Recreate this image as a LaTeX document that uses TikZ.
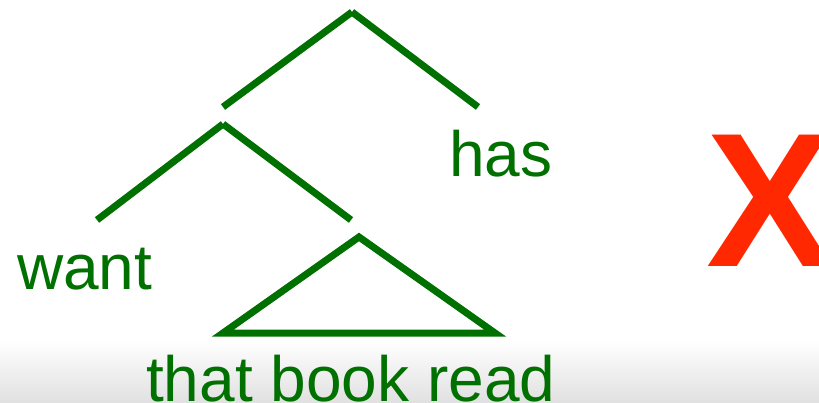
\documentclass[tikz,border=0pt]{standalone}
\usepackage{fontspec}
\setmainfont{Liberation Sans}
\definecolor{treegreen}{RGB}{0,112,0}
\definecolor{xred}{RGB}{255,40,0}
\tikzset{
  branch/.style={treegreen, line width=7pt, line cap=butt},
  roof/.style={treegreen, line width=7pt, line join=miter},
  word/.style={treegreen, font=\fontsize{64}{64}\selectfont, inner sep=0pt, anchor=base west},
  cross/.style={xred, font=\fontsize{191}{191}\selectfont\bfseries, inner sep=0pt, anchor=base west},
}

\begin{document}
\begin{tikzpicture}[x=1pt, y=-1pt]
  \useasboundingbox (0,0) rectangle (819,403);
  % --- grey band along the bottom ---
  \shade[top color=white, bottom color=black!12] (0,340) rectangle (819,403);

  % --- tree points ---
  \coordinate (root)  at (352,12);
  \coordinate (rootL) at (223,107);
  \coordinate (rootR) at (478,107);
  \coordinate (vp)    at (223,124);
  \coordinate (vpL)   at (97,220);
  \coordinate (vpR)   at (351,220);
  \coordinate (tri)   at (359,237);
  \coordinate (triL)  at (223,333);
  \coordinate (triR)  at (495,333);

  % --- words ---
  \node[word] (has)  at (449,177) {has};
  \node[word] (want) at (17,290) {want};
  \node[word] (obj)  at (146,401) {that book read};

  % --- branches ---
  \draw[branch] (root) -- (rootL);
  \draw[branch] (root) -- (rootR);
  \draw[branch] (vp) -- (vpL);
  \draw[branch] (vp) -- (vpR);
  \draw[roof] (tri) -- (triL) -- (triR) -- cycle;

  % --- the cross ---
  \node[cross] (x) at (706,267) {X};
\end{tikzpicture}
\end{document}
